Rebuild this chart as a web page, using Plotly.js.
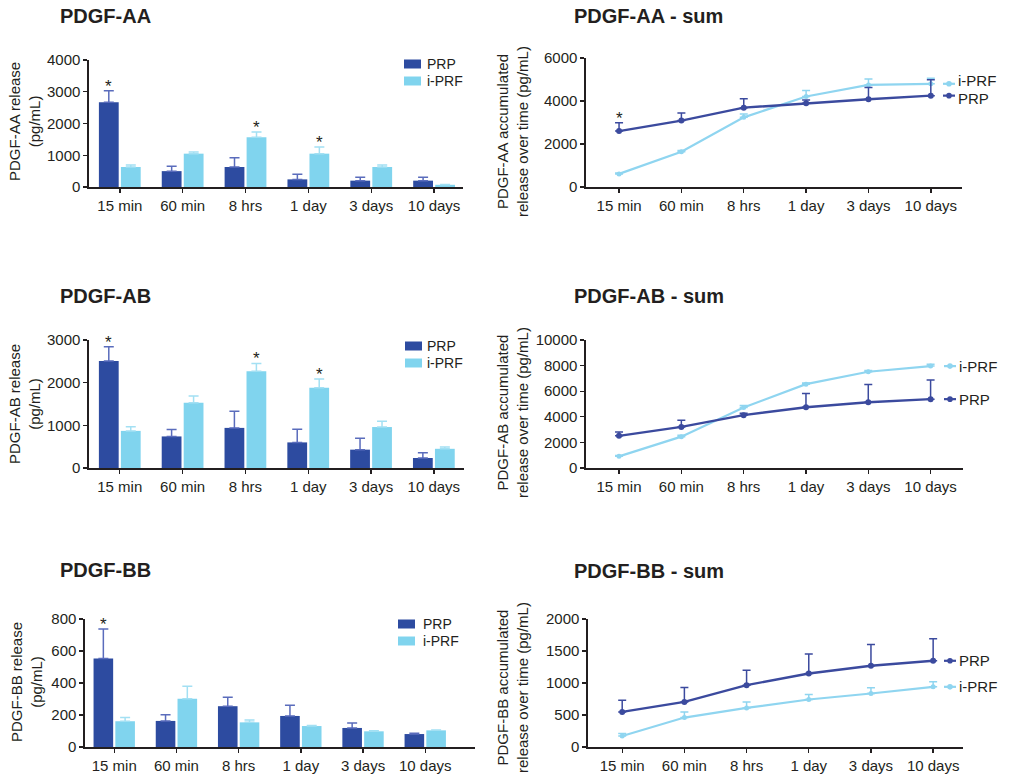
<!DOCTYPE html>
<html>
<head>
<meta charset="utf-8">
<script src="https://cdn.plot.ly/plotly-3.0.1.min.js"></script>
<style>
html,body{margin:0;padding:0;background:#fff;}
#chart{width:1009px;height:776px;}
</style>
</head>
<body>
<div id="chart"></div>
<script>
// ---------- data ----------
const categories = ['15 min', '60 min', '8 hrs', '1 day', '3 days', '10 days'];
const seriesNames = ['PRP', 'i-PRF'];

// PDGF-AA release (bars)
const aaPRP      = [2670, 500, 630, 240, 200, 200];
const aaPRPsd    = [360, 150, 290, 160, 110, 110];
const aaIPRF     = [630, 1050, 1570, 1050, 630, 70];
const aaIPRFsd   = [60, 50, 160, 210, 60, 10];
const aaPRPstar  = [1, 0, 0, 0, 0, 0];
const aaIPRFstar = [0, 0, 1, 1, 0, 0];

// PDGF-AA accumulated (lines)
const aaSumPRP     = [2600, 3090, 3690, 3900, 4080, 4250];
const aaSumPRPsd   = [390, 350, 420, 150, 550, 740];
const aaSumIPRF    = [610, 1640, 3240, 4210, 4750, 4800];
const aaSumIPRFsd  = [40, 60, 150, 280, 270, 260];
const aaSumPRPstar = [1, 0, 0, 0, 0, 0];

// PDGF-AB release (bars)
const abPRP      = [2510, 740, 940, 600, 430, 235];
const abPRPsd    = [330, 160, 390, 310, 270, 125];
const abIPRF     = [870, 1530, 2270, 1880, 960, 450];
const abIPRFsd   = [95, 155, 180, 205, 135, 40];
const abPRPstar  = [1, 0, 0, 0, 0, 0];
const abIPRFstar = [0, 0, 1, 1, 0, 0];

// PDGF-AB accumulated (lines)
const abSumPRP    = [2510, 3210, 4130, 4750, 5140, 5380];
const abSumPRPsd  = [310, 520, 150, 1070, 1380, 1490];
const abSumIPRF   = [910, 2450, 4730, 6550, 7520, 7960];
const abSumIPRFsd = [60, 100, 150, 100, 100, 150];

// PDGF-BB release (bars)
const bbPRP      = [553, 163, 255, 194, 119, 81];
const bbPRPsd    = [184, 39, 56, 67, 31, 5];
const bbIPRF     = [161, 301, 154, 131, 98, 104];
const bbIPRFsd   = [23, 79, 15, 4, 3, 3];
const bbPRPstar  = [1, 0, 0, 0, 0, 0];
const bbIPRFstar = [0, 0, 0, 0, 0, 0];

// PDGF-BB accumulated (lines)
const bbSumPRP    = [548, 705, 966, 1149, 1269, 1347];
const bbSumPRPsd  = [183, 225, 235, 303, 334, 345];
const bbSumIPRF   = [172, 460, 611, 742, 836, 940];
const bbSumIPRFsd = [40, 88, 94, 78, 88, 78];

const barTitles  = ['PDGF-AA', 'PDGF-AB', 'PDGF-BB'];
const lineTitles = ['PDGF-AA - sum', 'PDGF-AB - sum', 'PDGF-BB - sum'];
const barYTitles  = ['PDGF-AA release<br>(pg/mL)', 'PDGF-AB release<br>(pg/mL)', 'PDGF-BB release<br>(pg/mL)'];
const lineYTitles = ['PDGF-AA accumulated<br>release over time (pg/mL)', 'PDGF-AB accumulated<br>release over time (pg/mL)', 'PDGF-BB accumulated<br>release over time (pg/mL)'];
const barYMax  = [4000, 3000, 800];
const barDtick = [1000, 1000, 200];
const lineYMax  = [6000, 10000, 2000];
const lineDtick = [2000, 2000, 500];

// ---------- styling / geometry ----------
const W = 1009, H = 776;
const FONT = 'Liberation Sans, Arial, Helvetica, sans-serif';
const INK = '#231f20';
const PRP_COL = '#2d4ba0', PRP_ERR = '#5a6cbc';
const IPRF_COL = '#80d4ee', IPRF_ERR = '#a3e0f3';
const LPRP_COL = '#3b4a9e', LIPRF_COL = '#8fd5f0';

// pixel boxes: [left, right, top, bottom], x range
const boxes = [
  {l: 89,  r: 463, t: 60,  b: 187, xr: [-0.49, 5.46]},  // AA bars
  {l: 586, r: 962, t: 58,  b: 187, xr: [-0.53, 5.5]},   // AA sum
  {l: 89,  r: 464, t: 340, b: 468, xr: [-0.49, 5.48]},  // AB bars
  {l: 586, r: 963, t: 340, b: 468, xr: [-0.53, 5.52]},  // AB sum
  {l: 85,  r: 475, t: 619, b: 747, xr: [-0.47, 5.8]},   // BB bars
  {l: 588, r: 963, t: 619, b: 747, xr: [-0.55, 5.48]}   // BB sum
];
const titlePos = [[58, 16], [572, 16], [58, 296], [572, 296], [58, 570], [572, 571]];
const yTitlePos = [[24, 122], [512, 132], [24, 404], [512, 413], [26, 682], [512, 688]];
// custom legends for bar panels: [square left, text left, y of PRP row, y of i-PRF row]
const legendPos = [[404, 426, 64, 81], [405, 426, 346, 363], [398, 422, 624, 641]];

const traces = [];
const annotations = [];
const shapes = [];
const layout = {
  width: W, height: H,
  margin: {l: 0, r: 0, t: 0, b: 0},
  paper_bgcolor: '#fff', plot_bgcolor: '#fff',
  font: {family: FONT, color: INK, size: 15},
  barmode: 'group', bargap: 0.3, bargroupgap: 0.1,
  showlegend: false,
  annotations: annotations, shapes: shapes
};

function axSuffix(i) { return i === 0 ? '' : String(i + 1); }

boxes.forEach((bx, i) => {
  const s = axSuffix(i);
  const isBar = (i % 2 === 0);
  const row = Math.floor(i / 2);
  layout['xaxis' + s] = {
    domain: [bx.l / W, bx.r / W],
    anchor: 'y' + s,
    type: 'category',
    categoryorder: 'array', categoryarray: categories,
    range: bx.xr,
    showline: true, linecolor: INK, linewidth: 1.6,
    ticks: 'outside', ticklen: 4, tickwidth: 1.4, tickcolor: INK,
    showgrid: false, zeroline: false,
    tickfont: {family: FONT, size: 15, color: INK},
    fixedrange: true
  };
  layout['yaxis' + s] = {
    domain: [1 - bx.b / H, 1 - bx.t / H],
    anchor: 'x' + s,
    range: [0, isBar ? barYMax[row] : lineYMax[row]],
    dtick: isBar ? barDtick[row] : lineDtick[row],
    tick0: 0, tickformat: 'd',
    showline: true, linecolor: INK, linewidth: 1.6,
    ticks: 'outside', ticklen: 4, tickwidth: 1.4, tickcolor: INK,
    showgrid: false, zeroline: false,
    tickfont: {family: FONT, size: 15, color: INK},
    fixedrange: true
  };
  annotations.push({
    text: '<b>' + (isBar ? barTitles[row] : lineTitles[row]) + '</b>',
    xref: 'paper', yref: 'paper',
    x: titlePos[i][0] / W, y: 1 - titlePos[i][1] / H,
    xanchor: 'left', yanchor: 'middle', showarrow: false,
    font: {family: FONT, size: 20, color: INK}
  });
  annotations.push({
    text: isBar ? barYTitles[row] : lineYTitles[row],
    xref: 'paper', yref: 'paper',
    x: yTitlePos[i][0] / W, y: 1 - yTitlePos[i][1] / H,
    xanchor: 'center', yanchor: 'middle', showarrow: false,
    textangle: -90,
    font: {family: FONT, size: 15, color: INK}
  });
});

function upErr(sd, color, width) {
  return {type: 'data', array: sd, arrayminus: sd.map(() => 0), symmetric: false,
          color: color, thickness: 1.5, width: width};
}

function addStars(vals, sd, flags, s, xshift) {
  flags.forEach((f, k) => {
    if (!f) return;
    annotations.push({
      text: '*', xref: 'x' + s, yref: 'y' + s,
      x: categories[k], y: vals[k] + sd[k],
      xshift: xshift, yshift: -7,
      xanchor: 'center', yanchor: 'bottom', showarrow: false,
      font: {family: FONT, size: 17, color: INK}
    });
  });
}

// ---------- bar panels ----------
const barSets = [
  [aaPRP, aaPRPsd, aaIPRF, aaIPRFsd, aaPRPstar, aaIPRFstar],
  [abPRP, abPRPsd, abIPRF, abIPRFsd, abPRPstar, abIPRFstar],
  [bbPRP, bbPRPsd, bbIPRF, bbIPRFsd, bbPRPstar, bbIPRFstar]
];

barSets.forEach((set, row) => {
  const i = row * 2;
  const s = axSuffix(i);
  traces.push({
    type: 'bar', name: seriesNames[0], x: categories, y: set[0],
    xaxis: 'x' + s, yaxis: 'y' + s,
    marker: {color: PRP_COL, line: {width: 0}},
    error_y: upErr(set[1], PRP_ERR, 5)
  });
  traces.push({
    type: 'bar', name: seriesNames[1], x: categories, y: set[2],
    xaxis: 'x' + s, yaxis: 'y' + s,
    marker: {color: IPRF_COL, line: {width: 0}},
    error_y: upErr(set[3], IPRF_ERR, 5)
  });
  addStars(set[0], set[1], set[4], s, -11);
  addStars(set[2], set[3], set[5], s, 11);

  // legend (square swatches + labels)
  const lp = legendPos[row];
  [[seriesNames[0], PRP_COL, lp[2]], [seriesNames[1], IPRF_COL, lp[3]]].forEach(([nm, col, yc]) => {
    shapes.push({type: 'rect', xref: 'paper', yref: 'paper',
                 x0: lp[0] / W, x1: (lp[0] + 17) / W,
                 y0: 1 - (yc + 4.5) / H, y1: 1 - (yc - 4.5) / H,
                 fillcolor: col, line: {width: 0}});
    annotations.push({text: nm, xref: 'paper', yref: 'paper',
                      x: lp[1] / W, y: 1 - yc / H,
                      xanchor: 'left', yanchor: 'middle', showarrow: false,
                      borderpad: 0,
                      font: {family: FONT, size: 14, color: INK}});
  });
});

// ---------- line panels ----------
const lineSets = [
  [aaSumPRP, aaSumPRPsd, aaSumIPRF, aaSumIPRFsd, aaSumPRPstar],
  [abSumPRP, abSumPRPsd, abSumIPRF, abSumIPRFsd, null],
  [bbSumPRP, bbSumPRPsd, bbSumIPRF, bbSumIPRFsd, null]
];

lineSets.forEach((set, row) => {
  const i = row * 2 + 1;
  const s = axSuffix(i);
  const bx = boxes[i];
  traces.push({
    type: 'scatter', mode: 'lines+markers', name: seriesNames[1],
    x: categories, y: set[2], xaxis: 'x' + s, yaxis: 'y' + s,
    line: {color: LIPRF_COL, width: 2.2}, marker: {color: LIPRF_COL, size: 5},
    error_y: upErr(set[3], LIPRF_COL, 4)
  });
  traces.push({
    type: 'scatter', mode: 'lines+markers', name: seriesNames[0],
    x: categories, y: set[0], xaxis: 'x' + s, yaxis: 'y' + s,
    line: {color: LPRP_COL, width: 2.4}, marker: {color: LPRP_COL, size: 6},
    error_y: upErr(set[1], LPRP_COL, 4)
  });
  if (set[4]) addStars(set[0], set[1], set[4], s, 0);

  // end-of-line labels with small line samples
  const xd = 'x' + s + ' domain';
  const w = bx.r - bx.l;
  const sx0 = (bx.r - 19 - bx.l) / w, sx1 = (bx.r - 7 - bx.l) / w;
  const sxm = (sx0 + sx1) / 2;
  const tx = (bx.r - 5 - bx.l) / w;
  const pxPerUnit = (bx.b - bx.t) / lineYMax[row];
  const endPRP = set[0][set[0].length - 1];
  const endIPRF = set[2][set[2].length - 1];
  const sepPx = Math.abs(endPRP - endIPRF) * pxPerUnit;
  const push = sepPx < 18 ? (18 - sepPx) / 2 : 0;
  const prpUpper = endPRP > endIPRF;
  [[endPRP, seriesNames[0], LPRP_COL, prpUpper ? push : -push],
   [endIPRF, seriesNames[1], LIPRF_COL, prpUpper ? -push : push]].forEach(([yEnd, nm, col, ysh]) => {
    shapes.push({type: 'line', xref: xd, yref: 'y' + s, x0: sx0, x1: sx1, y0: yEnd, y1: yEnd,
                 line: {color: col, width: 2.2}});
    shapes.push({type: 'circle', xref: xd, yref: 'y' + s, xsizemode: 'pixel', ysizemode: 'pixel',
                 xanchor: sxm, yanchor: yEnd, x0: -2.8, x1: 2.8, y0: -2.8, y1: 2.8,
                 fillcolor: col, line: {color: col, width: 0}});
    annotations.push({text: nm, xref: xd, yref: 'y' + s, x: tx, y: yEnd, yshift: ysh,
                      xanchor: 'left', yanchor: 'middle', showarrow: false, borderpad: 0,
                      font: {family: FONT, size: 15, color: INK}});
  });
});

Plotly.newPlot('chart', traces, layout, {displayModeBar: false, staticPlot: true});
</script>
</body>
</html>
